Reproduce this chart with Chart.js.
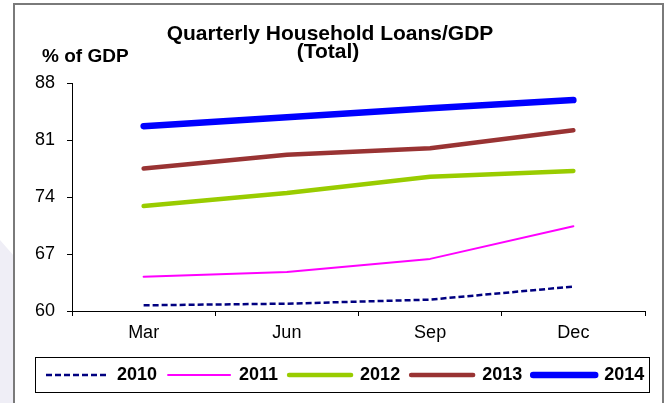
<!DOCTYPE html>
<html>
<head>
<meta charset="utf-8">
<script src="https://cdn.jsdelivr.net/npm/chart.js@4.4.1/dist/chart.umd.min.js"></script>
<style>
  body { margin: 0; background: #fff; }
</style>
</head>
<body>
<canvas id="myChart" width="670" height="403"></canvas>
<script>
var categories = ['Mar', 'Jun', 'Sep', 'Dec'];
var years = ['2010', '2011', '2012', '2013', '2014'];
var loans2010 = [60.7, 60.9, 61.4, 63.0];
var loans2011 = [64.2, 64.8, 66.4, 70.4];
var loans2012 = [72.9, 74.5, 76.5, 77.2];
var loans2013 = [77.5, 79.2, 80.0, 82.2];
var loans2014 = [82.7, 83.8, 84.9, 85.9];
var yMin = 60, yMax = 88, yStep = 7;

var FONT = 'Arial, "Liberation Sans", sans-serif';

// frame, title texts and the box round the legend
var decor = {
  id: 'decor',
  beforeDraw: function(chart) {
    var c = chart.ctx;
    c.save();
    c.fillStyle = '#efeef6';
    c.beginPath();
    c.moveTo(0, 240); c.lineTo(14, 256); c.lineTo(14, 403); c.lineTo(0, 403);
    c.closePath();
    c.fill();
    c.restore();
  },
  afterDraw: function(chart) {
    var c = chart.ctx;
    var lg = chart.legend;
    c.save();
    c.strokeStyle = '#7a7a7a';
    c.lineWidth = 2;
    c.strokeRect(14, 4, 649, 420);

    c.strokeStyle = '#000';
    c.lineWidth = 1;
    c.strokeRect(lg.left + 0.5, lg.top + 2.5, chart.chartArea.right + 4 - lg.left, 35);

    c.fillStyle = '#000';
    c.textAlign = 'center';
    c.textBaseline = 'alphabetic';
    c.font = 'bold 21px ' + FONT;
    c.fillText('Quarterly Household Loans/GDP', 330, 40);
    c.fillText('(Total)', 328, 58);
    c.textAlign = 'left';
    c.font = 'bold 19px ' + FONT;
    c.fillText('% of GDP', 42, 62);
    c.restore();
  }
};

var ctx = document.getElementById('myChart').getContext('2d');
var chart = new Chart(ctx, {
  type: 'line',
  data: {
    labels: categories,
    datasets: [{
      label: years[0],
      data: loans2010,
      borderColor: '#000080',
      backgroundColor: '#000080',
      borderWidth: 2.5,
      borderDash: [6, 3],
      borderCapStyle: 'butt'
    }, {
      label: years[1],
      data: loans2011,
      borderColor: '#ff00ff',
      backgroundColor: '#ff00ff',
      borderWidth: 2,
      borderCapStyle: 'round'
    }, {
      label: years[2],
      data: loans2012,
      borderColor: '#99cc00',
      backgroundColor: '#99cc00',
      borderWidth: 4.5,
      borderCapStyle: 'round'
    }, {
      label: years[3],
      data: loans2013,
      borderColor: '#993333',
      backgroundColor: '#993333',
      borderWidth: 4.5,
      borderCapStyle: 'round'
    }, {
      label: years[4],
      data: loans2014,
      borderColor: '#0000ff',
      backgroundColor: '#0000ff',
      borderWidth: 6.5,
      borderCapStyle: 'round'
    }]
  },
  options: {
    responsive: false,
    devicePixelRatio: 1,
    animation: false,
    elements: {
      point: { radius: 0, hoverRadius: 0 },
      line: { tension: 0, borderJoinStyle: 'round' }
    },
    layout: { padding: { top: 83, left: 35, right: 12, bottom: 9 } },
    plugins: {
      title: { display: false },
      tooltip: { enabled: false },
      legend: {
        position: 'bottom',
        align: 'start',
        labels: {
          usePointStyle: true,
          pointStyle: 'line',
          pointStyleWidth: 62,
          padding: 11,
          color: '#000',
          font: { family: FONT, size: 18, weight: 'bold' },
          generateLabels: function(chart) {
            var items = Chart.defaults.plugins.legend.labels.generateLabels(chart);
            items.forEach(function(item) {
              var ds = chart.data.datasets[item.datasetIndex];
              item.lineDash = ds.borderDash || [];
              item.lineWidth = ds.borderWidth;
              item.lineCap = ds.borderCapStyle;
              item.strokeStyle = ds.borderColor;
            });
            return items;
          }
        }
      }
    },
    scales: {
      x: {
        offset: true,
        grid: { display: true, offset: true, drawOnChartArea: false, tickLength: 5, color: '#000' },
        border: { color: '#000', width: 1 },
        ticks: { color: '#000', padding: 6, maxRotation: 0, font: { family: FONT, size: 18 } },
        afterFit: function(scale) {
          scale.height = 44;
          scale.paddingRight = 25;
        }
      },
      y: {
        min: yMin,
        max: yMax,
        grid: { display: true, drawOnChartArea: false, tickLength: 5, color: '#000' },
        border: { color: '#000', width: 1 },
        ticks: { stepSize: yStep, color: '#000', padding: 12, font: { family: FONT, size: 18 } },
        afterFit: function(scale) {
          scale.width = 37;
        }
      }
    }
  },
  plugins: [decor]
});
</script>
</body>
</html>
